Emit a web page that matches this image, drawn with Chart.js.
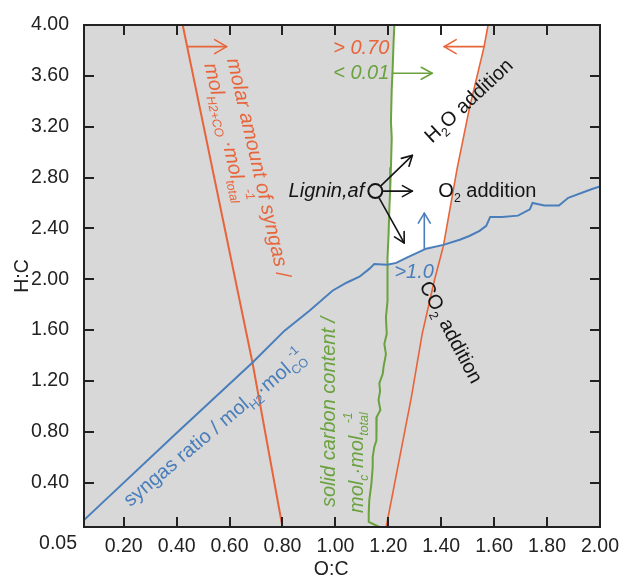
<!DOCTYPE html>
<html><head><meta charset="utf-8">
<script src="https://cdn.jsdelivr.net/npm/chart.js@4"></script>
<style>html,body{margin:0;padding:0;background:#fff}canvas{display:block}</style>
</head><body>
<canvas id="c" width="626" height="579"></canvas>
<script>
// ---------- data ----------
const xTickValues = [0.05,0.20,0.40,0.60,0.80,1.00,1.20,1.40,1.60,1.80,2.00];
const xTickLabels = ['0.05','0.20','0.40','0.60','0.80','1.00','1.20','1.40','1.60','1.80','2.00'];
const yTickValues = [0.40,0.80,1.20,1.60,2.00,2.40,2.80,3.20,3.60,4.00];
const yTickLabels = ['0.40','0.80','1.20','1.60','2.00','2.40','2.80','3.20','3.60','4.00'];

// syngas ratio (blue)
const blueX = [0.05,0.109,0.40,0.687,0.808,0.902,0.989,1.042,1.091,1.128,1.147,1.196,1.230,1.268,1.343,1.408,1.47,1.506,1.545,1.57,1.585,1.63,1.69,1.735,1.745,1.79,1.845,1.88,1.97,2.00];
const blueY = [0.105,0.22,0.79,1.345,1.595,1.752,1.909,1.972,2.019,2.081,2.12,2.113,2.128,2.168,2.24,2.27,2.31,2.34,2.38,2.42,2.49,2.49,2.50,2.55,2.60,2.58,2.58,2.64,2.71,2.73];
// molar amount of syngas (orange), left and right boundary
const orangeLX = [0.423,0.687,0.80];
const orangeLY = [4.00,1.34,0.05];
const orangeRX = [1.192,1.287,1.328,1.374,1.408,1.46,1.506,1.562,1.577];
const orangeRY = [0.05,1.07,1.57,1.99,2.26,2.87,3.34,3.83,4.00];
// solid carbon content (green)
const greenX = [1.223,1.220,1.216,1.213,1.210,1.213,1.210,1.207,1.204,1.201,1.197,1.197,1.191,1.194,1.185,1.191,1.182,1.179,1.166,1.169,1.163,1.170,1.156,1.154,1.156,1.147,1.141,1.141,1.136,1.128,1.126,1.126,1.166];
const greenY = [4.00,3.87,3.63,3.50,3.24,3.11,2.88,2.70,2.56,2.35,2.17,1.83,1.70,1.57,1.49,1.41,1.31,1.255,1.18,1.12,1.05,0.97,0.915,0.785,0.73,0.68,0.60,0.52,0.39,0.26,0.16,0.09,0.05];
// Lignin,af point
const ligninX = [1.151];
const ligninY = [2.693];

// ---------- style ----------
const FONT = '"Liberation Sans", Arial, Helvetica, sans-serif';
const ORANGE = '#e8643a', GREEN = '#6aa23f', BLUE = '#4a7ebb', BLACK = '#141414', GRAY = '#d8d8d8';
const pts = (xs, ys) => xs.map((v, i) => ({x: v, y: ys[i]}));

// white feasible region: green (top part) -> blue -> orange right (top part)
const whiteRegion = [
  ...pts(greenX, greenY).filter(p => p.y >= 2.15),
  ...pts(blueX, blueY).filter(p => p.x >= 1.19 && p.x <= 1.41),
  ...pts(orangeRX, orangeRY).filter(p => p.y >= 2.26)
];

const arrows = [
  {from:[0.442,3.83], to:[0.589,3.83], color:ORANGE, head:12, half:7},
  {from:[1.562,3.83], to:[1.411,3.83], color:ORANGE, head:12, half:7},
  {from:[1.215,3.62], to:[1.366,3.62], color:GREEN, head:11, half:6},
  {from:[1.336,2.238], to:[1.336,2.52], color:BLUE, head:10, half:6},
  {from:[ligninX[0],ligninY[0]], to:[1.291,2.974], color:BLACK, head:10, half:5.5, gap:8},
  {from:[ligninX[0],ligninY[0]], to:[1.291,2.693], color:BLACK, head:10, half:5.5, gap:8},
  {from:[ligninX[0],ligninY[0]], to:[1.260,2.285], color:BLACK, head:10, half:5.5, gap:8}
];

const texts = [
  {segs:[{t:'molar amount of syngas /'}], at:[0.611,3.736], angle:77, color:ORANGE, italic:true, align:'left'},
  {segs:[{t:'mol'},{t:'H2+CO',k:'sub'},{t:' ·mol'},{t:'total',k:'sub'},{t:'-1',k:'sup',over:true}], at:[0.525,3.697], angle:77, color:ORANGE, italic:true, align:'left'},
  {segs:[{t:'syngas ratio / mol'},{t:'H2',k:'sub'},{t:'·mol'},{t:'CO',k:'sub'},{t:'-1',k:'sup',over:true}], at:[0.211,0.238], angle:-40, color:BLUE, italic:false, align:'left'},
  {segs:[{t:'solid carbon content /'}], at:[0.977,0.207], angle:-90, color:GREEN, italic:true, align:'left'},
  {segs:[{t:'mol'},{t:'c',k:'sub'},{t:'·mol'},{t:'total',k:'sub'},{t:'-1',k:'sup',over:true}], at:[1.083,0.16], angle:-90, color:GREEN, italic:true, align:'left'},
  {segs:[{t:'> 0.70'}], at:[1.204,3.815], angle:0, color:ORANGE, italic:true, align:'right'},
  {segs:[{t:'< 0.01'}], at:[1.204,3.619], angle:0, color:GREEN, italic:true, align:'right'},
  {segs:[{t:'>1.0'}], at:[1.223,2.05], angle:0, color:BLUE, italic:true, align:'left'},
  {segs:[{t:'Lignin,af'}], at:[1.109,2.693], angle:0, color:BLACK, italic:true, align:'right'},
  {segs:[{t:'O'},{t:'2',k:'sub'},{t:' addition'}], at:[1.389,2.693], angle:0, color:BLACK, italic:false, align:'left'},
  {segs:[{t:'H'},{t:'2',k:'sub'},{t:'O addition'}], at:[1.506,3.40], angle:-43, color:BLACK, italic:false, align:'center'},
  {segs:[{t:'CO'},{t:'2',k:'sub'},{t:' addition'}], at:[1.434,1.579], angle:62, color:BLACK, italic:false, align:'center'}
];

const TEXT_SIZE = 20;

function drawRich(ctx, segs, x, y, o) {
  const f = s => (o.italic ? 'italic ' : '') + s + 'px ' + FONT;
  const items = []; let cx = 0; let prev = null;
  for (const sg of segs) {
    const s = sg.k ? o.size * 0.62 : o.size;
    ctx.font = f(s);
    const w = ctx.measureText(sg.t).width;
    const dy = sg.k === 'sub' ? o.size * 0.36 : (sg.k === 'sup' ? -o.size * 0.45 : 0);
    let x0 = cx;
    if (sg.over && prev) x0 = prev.x0 + prev.w - w;
    const it = {t: sg.t, s, x0, dy, w};
    items.push(it);
    if (!sg.over) { cx = x0 + w; prev = it; }
  }
  const total = cx;
  const off = o.align === 'center' ? -total / 2 : (o.align === 'right' ? -total : 0);
  ctx.save();
  ctx.translate(x, y);
  ctx.rotate(o.angle * Math.PI / 180);
  ctx.fillStyle = o.color; ctx.textBaseline = 'middle'; ctx.textAlign = 'left';
  for (const it of items) { ctx.font = f(it.s); ctx.fillText(it.t, off + it.x0, it.dy); }
  ctx.restore();
}

function drawArrow(ctx, x1, y1, x2, y2, a) {
  const ang = Math.atan2(y2 - y1, x2 - x1);
  if (a.gap) { x1 += Math.cos(ang) * a.gap; y1 += Math.sin(ang) * a.gap; }
  ctx.save();
  ctx.strokeStyle = a.color; ctx.lineWidth = a.lw || 1.6; ctx.lineCap = 'round'; ctx.lineJoin = 'round';
  ctx.beginPath(); ctx.moveTo(x1, y1); ctx.lineTo(x2, y2); ctx.stroke();
  const h = a.head, w = a.half;
  const bx = x2 - Math.cos(ang) * h, by = y2 - Math.sin(ang) * h;
  const nx = -Math.sin(ang) * w, ny = Math.cos(ang) * w;
  ctx.beginPath(); ctx.moveTo(bx + nx, by + ny); ctx.lineTo(x2, y2); ctx.lineTo(bx - nx, by - ny); ctx.stroke();
  ctx.restore();
}

const regionPlugin = {
  id: 'region',
  beforeDatasetsDraw(chart) {
    const {ctx, chartArea: a, scales: {x, y}} = chart;
    ctx.save();
    ctx.fillStyle = GRAY;
    ctx.fillRect(a.left, a.top, a.right - a.left, a.bottom - a.top);
    ctx.fillStyle = '#ffffff';
    ctx.beginPath();
    whiteRegion.forEach((p, i) => {
      const px = x.getPixelForValue(p.x), py = y.getPixelForValue(p.y);
      if (i === 0) ctx.moveTo(px, py); else ctx.lineTo(px, py);
    });
    ctx.closePath(); ctx.fill();
    ctx.restore();
  },
  afterDatasetsDraw(chart) {
    const {ctx, scales: {x, y}} = chart;
    for (const a of arrows) {
      drawArrow(ctx, x.getPixelForValue(a.from[0]), y.getPixelForValue(a.from[1]),
        x.getPixelForValue(a.to[0]), y.getPixelForValue(a.to[1]), a);
    }
    for (const t of texts) {
      drawRich(ctx, t.segs, x.getPixelForValue(t.at[0]), y.getPixelForValue(t.at[1]),
        {size: TEXT_SIZE, color: t.color, italic: t.italic, angle: t.angle, align: t.align});
    }
  },
  afterDraw(chart) {
    const {ctx, chartArea: a, scales: {x, y}} = chart;
    ctx.save();
    ctx.strokeStyle = '#222'; ctx.lineWidth = 2;
    const L = 10;
    ctx.beginPath();
    for (const v of xTickValues) {
      const px = Math.round(x.getPixelForValue(v));
      if (px <= a.left + 2 || px >= a.right - 2) continue;
      ctx.moveTo(px, a.bottom); ctx.lineTo(px, a.bottom - L);
      ctx.moveTo(px, a.top); ctx.lineTo(px, a.top + L);
    }
    for (const v of yTickValues) {
      const py = Math.round(y.getPixelForValue(v));
      if (py <= a.top + 2 || py >= a.bottom - 2) continue;
      ctx.moveTo(a.left, py); ctx.lineTo(a.left + L, py);
      ctx.moveTo(a.right, py); ctx.lineTo(a.right - L, py);
    }
    ctx.stroke();
    ctx.strokeRect(a.left, a.top, a.right - a.left, a.bottom - a.top);
    // corner label of the x axis minimum
    ctx.fillStyle = '#222'; ctx.font = '19.5px ' + FONT;
    ctx.textAlign = 'right'; ctx.textBaseline = 'middle';
    ctx.fillText(xTickLabels[0], a.left - 7, a.bottom + 17);
    ctx.restore();
  }
};

const tickFont = {family: FONT, size: 19.5};
new Chart(document.getElementById('c'), {
  type: 'scatter',
  data: {
    datasets: [
      {label: 'syngas ratio', data: pts(blueX, blueY), showLine: true, borderColor: BLUE, borderWidth: 2, pointRadius: 0, tension: 0},
      {label: 'molar amount of syngas (left)', data: pts(orangeLX, orangeLY), showLine: true, borderColor: ORANGE, borderWidth: 2, pointRadius: 0},
      {label: 'molar amount of syngas (right)', data: pts(orangeRX, orangeRY), showLine: true, borderColor: ORANGE, borderWidth: 1.6, pointRadius: 0},
      {label: 'solid carbon content', data: pts(greenX, greenY), showLine: true, borderColor: GREEN, borderWidth: 2, pointRadius: 0},
      {label: 'Lignin,af', data: pts(ligninX, ligninY), showLine: false, pointRadius: 7, pointBorderWidth: 2,
        borderColor: BLACK, backgroundColor: 'rgba(0,0,0,0)', pointHoverRadius: 7}
    ]
  },
  options: {
    responsive: false, animation: false, events: [],
    layout: {padding: {left: 0, right: 26, top: 25, bottom: 0}},
    plugins: {legend: {display: false}, tooltip: {enabled: false}},
    scales: {
      x: {
        type: 'linear', min: 0.05, max: 2.0,
        afterBuildTicks: s => { s.ticks = xTickValues.map(v => ({value: v})); },
        afterFit: s => { s.height = 52; },
        grid: {display: false}, border: {display: false},
        ticks: {font: tickFont, color: '#222', padding: 0, maxRotation: 0, autoSkip: false,
          callback: (v, i) => i === 0 ? '' : xTickLabels[i]},
        title: {display: true, text: 'O:C    ', font: {family: FONT, size: 19.5, lineHeight: 1.0}, color: '#222', padding: {top: 0, bottom: 0}}
      },
      y: {
        type: 'linear', min: 0.05, max: 4.0,
        afterBuildTicks: s => { s.ticks = yTickValues.map(v => ({value: v})); },
        afterFit: s => { s.width = 84; },
        grid: {display: false}, border: {display: false},
        ticks: {font: tickFont, color: '#222', padding: 7, autoSkip: false,
          callback: (v, i) => yTickLabels[i]},
        title: {display: true, text: 'H:C', font: {family: FONT, size: 19.5}, color: '#222', padding: {top: 11, bottom: 0}}
      }
    }
  },
  plugins: [regionPlugin]
});
</script>
</body></html>
